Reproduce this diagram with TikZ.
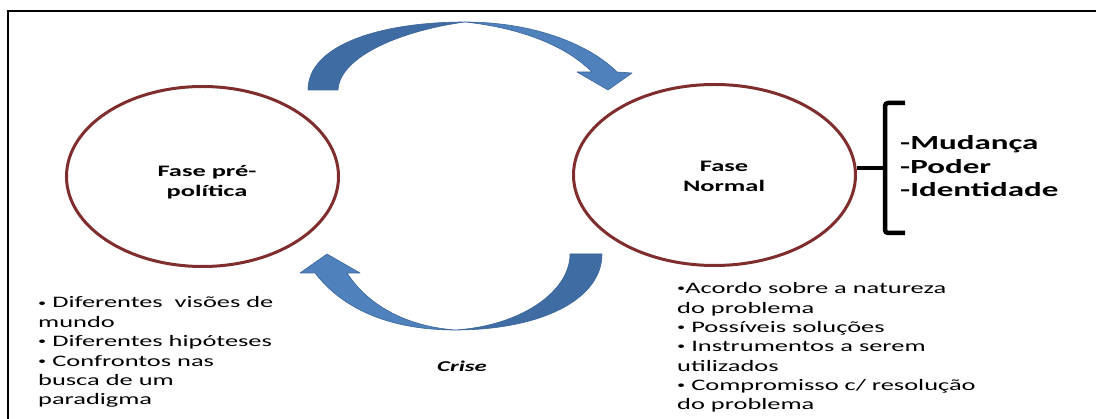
\documentclass[tikz,border=0pt]{standalone}
\usepackage{fontspec}
\usepackage{tikz}
\usetikzlibrary{shapes.geometric}
\newfontfamily\widefont[FakeStretch=1.65]{Carlito}
\definecolor{fasered}{HTML}{7F2D2D}
\definecolor{arrowlight}{HTML}{4F81BD}
\definecolor{arrowdark}{HTML}{3F6CA3}
\definecolor{arrowline}{HTML}{3A6699}
\newcommand{\marca}{\raisebox{0.12em}{\scalebox{0.62}{•}}}
\tikzset{
  fase/.style={ellipse, draw=fasered, line width=3pt, inner sep=0pt},
  faselabel/.style={font=\widefont\bfseries\fontsize{16}{20}\selectfont, align=center, inner sep=0pt, anchor=base},
  lista/.style={font=\widefont\fontsize{16}{19.4}\selectfont, align=left, inner sep=0pt, anchor=base west},
  seta/.style={draw=arrowline, line width=0.6pt, line join=round},
  chave/.style={line width=4.5pt, rounded corners=3pt}
}

\begin{document}
\begin{tikzpicture}
      [x=1pt, y=-1pt]
      \useasboundingbox (0,0) rectangle (1096,419);
      \draw[line width=2.5pt](1096,11) -- (8,11) -- (8,419);

      \node[fase, minimum width=272pt, minimum height=180pt](1) at (202.5,176.5) {};
      \node[fase, minimum width=282pt, minimum height=181pt](2) at (714.5,175) {};
      \node[faselabel](3) at (207,197) {Fase pré-\\política};
      \node[faselabel](4) at (724,192) {Fase\\Normal};

      \fill[arrowdark, seta](308,90) .. controls (308,45) and (380,22) .. (465,22)
        .. controls (405,30) and (340,55) .. (338,90) -- cycle;
      \fill[arrowlight, seta](465,22) .. controls (535,22) and (590,45) .. (617,72)
        -- (632,73) -- (608,90) -- (577,72) -- (592,72)
        .. controls (565,45) and (520,28) .. (465,22) -- cycle;

      \fill[arrowdark, seta](455,330) .. controls (540,330) and (602,300) .. (602,254)
        -- (570,254) .. controls (570,292) and (520,326) .. (455,330) -- cycle;
      \fill[arrowlight, seta](315,273) .. controls (345,312) and (395,330) .. (455,330)
        .. controls (405,326) and (368,305) .. (347,273)
        -- (360,273) -- (327,254) -- (300,273) -- cycle;

      \coordinate(5) at (885,168);
      \draw[chave](905,103) -- (885,103) -- (885,233) -- (905,233);
      \draw[chave](2.east |- 5) -- (5);
      \node[lista, font=\widefont\bfseries\fontsize{20}{23.5}\selectfont](6) at (900,197) {-Mudança\\-Poder\\-Identidade};

      \node[lista](7) at (38,405) {\marca{} Diferentes\ \ visões de\\mundo\\\marca{} Diferentes hipóteses\\\marca{} Confrontos nas\\busca de um\\paradigma};
      \node[lista](8) at (677,410) {\marca{}Acordo sobre a natureza\\do problema\\\marca{} Possíveis soluções\\\marca{} Instrumentos a serem\\utilizados\\\marca{} Compromisso c/ resolução\\do problema};
      \node[font=\widefont\bfseries\itshape\fontsize{15}{18}\selectfont, anchor=base](9) at (462,372) {Crise};
  \end{tikzpicture}
\end{document}
